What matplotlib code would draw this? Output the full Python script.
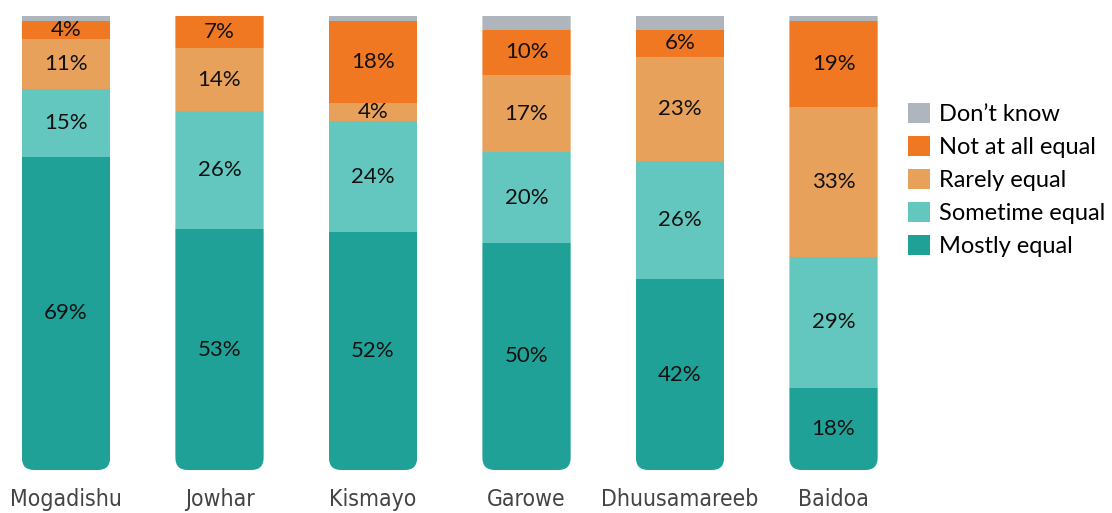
import numpy as np
import matplotlib.pyplot as plt
from matplotlib.patches import FancyBboxPatch, Patch

cities = ['Mogadishu', 'Jowhar', 'Kismayo', 'Garowe', 'Dhuusamareeb', 'Baidoa']
mostly = [69, 53, 52, 50, 42, 18]
sometime = [15, 26, 24, 20, 26, 29]
rarely = [11, 14, 4, 17, 23, 33]
not_at_all = [4, 7, 18, 10, 6, 19]
dont_know = [1, 0, 1, 3, 3, 1]

names = ['Mostly equal', 'Sometime equal', 'Rarely equal', 'Not at all equal', 'Don\u2019t know']
colors = ['#1fa198', '#63c7c0', '#e8a15b', '#f07823', '#aeb5bc']

series = np.array([mostly, sometime, rarely, not_at_all, dont_know], dtype=float)
series = series / series.sum(axis=0) * 100  # each bar fills to the top

fig = plt.figure(figsize=(11.12, 5.13), dpi=100)
ax = fig.add_axes([0, 43 / 513, 900 / 1112, 454 / 513])
x = np.arange(len(cities))
width = 0.575

bottom = np.zeros(len(cities))
bars_all = []
for vals, raw, col in zip(series, [mostly, sometime, rarely, not_at_all, dont_know], colors):
    bars = ax.bar(x, vals, width, bottom=bottom, color=col, linewidth=0)
    bars_all.append(bars)
    if col != colors[-1]:
        for xi, b, v, r in zip(x, bottom, vals, raw):
            if r > 0:
                ax.text(xi, b + v / 2, f'{r}%', ha='center', va='center',
                        fontsize=16, family='Lato', color='#111111')
    bottom += vals

ax.set_xlim(-0.43, 5.433)
ax.set_ylim(0, 100)

# round the bottom corners of each bar
rx = 0.08
ry = 2.7
for i, xi in enumerate(x):
    clip = FancyBboxPatch((xi - width / 2, 0), width, 130,
                          boxstyle=f'round,pad=0,rounding_size={rx}',
                          mutation_aspect=ry / rx, transform=ax.transData,
                          facecolor='none', edgecolor='none')
    for bars in bars_all:
        bars[i].set_clip_path(clip)

for s in ax.spines.values():
    s.set_visible(False)
ax.set_yticks([])
ax.set_xticks(x)
ax.set_xticklabels(cities, fontsize=16.5, family='DejaVu Sans', fontstretch='condensed',
                   color='#444444')
ax.tick_params(axis='x', length=0, pad=13)

handles = [Patch(facecolor=c, edgecolor='none') for c in colors[::-1]]
fig.legend(handles, names[::-1], loc='upper left', bbox_to_anchor=(887 / 1112, 1 - 82 / 513),
           frameon=False, prop={'family': 'Lato', 'size': 17},
           handlelength=0.9, handleheight=0.9, handletextpad=0.4, labelspacing=0.47)

fig.savefig('out.png', dpi=100)
